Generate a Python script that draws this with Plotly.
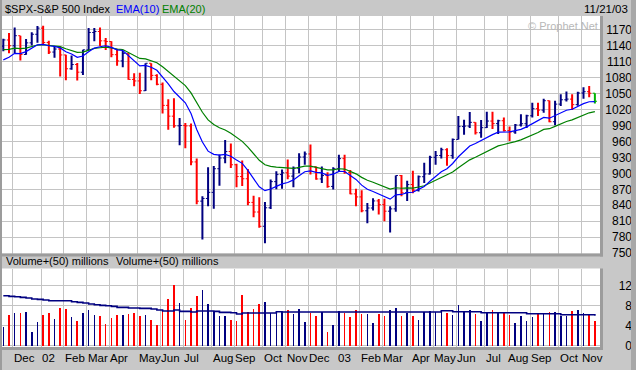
import plotly.graph_objects as go

# ---------------- data (weekly bars, week starting Mon 19 Nov 2001 .. Mon 17 Nov 2003) ----------------
month_labels = ["Dec", "02", "Feb", "Mar", "Apr", "May", "Jun", "Jul", "Aug", "Sep", "Oct", "Nov",
                "Dec", "03", "Feb", "Mar", "Apr", "May", "Jun", "Jul", "Aug", "Sep", "Oct", "Nov"]
# index of the first weekly bar of each month
month_first_bar = [2, 7, 11, 15, 19, 24, 28, 32, 37, 41, 46, 50,
                   54, 59, 63, 67, 72, 76, 80, 85, 89, 93, 98, 102]

opens = [1138.7, 1150.3, 1139.5, 1158.3, 1123.1, 1144.9, 1161.0, 1172.5, 1145.6, 1127.6,
         1133.3, 1122.2, 1096.2, 1104.2, 1089.8, 1131.8, 1164.3, 1166.2, 1148.7, 1147.4,
         1122.7, 1111.0, 1125.2, 1076.3, 1073.4, 1055.0, 1106.6, 1083.8, 1067.1, 1027.5,
         1007.3, 989.1, 989.8, 989.0, 921.4, 847.8, 852.8, 864.2, 908.6, 928.8,
         940.9, 916.1, 893.9, 889.8, 845.4, 827.4, 800.6, 835.3, 884.4, 897.7,
         901.0, 894.7, 909.8, 930.6, 936.3, 912.2, 889.5, 895.8, 875.4, 908.6,
         927.6, 901.8, 861.4, 855.7, 829.7, 834.9, 848.2, 841.2, 828.9, 833.3,
         895.8, 863.5, 878.9, 868.3, 893.6, 898.8, 930.1, 933.4, 944.3, 933.2,
         963.6, 987.8, 988.6, 995.7, 976.2, 985.7, 998.1, 993.3, 998.7, 980.2,
         977.6, 990.7, 993.1, 1008.0, 1021.4, 1018.6, 1036.3, 996.9, 1029.9, 1038.1,
         1039.3, 1028.9, 1050.7, 1053.2, 1050.4]

highs = [1152.4, 1163.4, 1173.6, 1158.3, 1152.0, 1164.6, 1176.5, 1177.0, 1148.8, 1139.0,
         1138.0, 1122.6, 1121.0, 1107.0, 1131.8, 1172.8, 1173.0, 1173.9, 1154.0, 1147.8,
         1134.0, 1130.5, 1125.2, 1088.0, 1088.9, 1106.6, 1106.6, 1086.0, 1070.7, 1039.0,
         1040.8, 1004.0, 994.5, 993.6, 927.6, 857.0, 911.6, 913.9, 935.3, 962.6,
         955.8, 918.0, 924.0, 908.0, 858.0, 855.0, 846.0, 888.2, 903.8, 907.0,
         926.0, 913.0, 937.5, 941.0, 954.3, 913.0, 913.0, 902.0, 911.2, 935.0,
         935.0, 906.0, 871.0, 868.0, 844.4, 853.0, 852.0, 852.4, 838.0, 895.8,
         897.0, 886.0, 905.0, 896.0, 920.0, 933.0, 942.0, 948.2, 947.0, 965.5,
         1007.7, 1000.7, 1015.3, 996.0, 1000.0, 1015.4, 1015.4, 1000.7, 1004.6, 988.0,
         992.5, 1011.0, 1010.0, 1032.4, 1032.4, 1040.2, 1036.5, 1036.0, 1048.3, 1053.8,
         1048.3, 1053.1, 1061.4, 1063.7, 1050.4]

lows = [1129.0, 1125.5, 1125.0, 1112.0, 1122.6, 1140.0, 1145.0, 1142.5, 1124.0, 1117.0,
        1081.7, 1074.5, 1094.4, 1074.4, 1084.5, 1130.5, 1148.0, 1139.0, 1131.6, 1118.0,
        1102.0, 1099.0, 1075.7, 1063.5, 1048.8, 1054.3, 1074.8, 1065.2, 1012.5, 981.6,
        985.6, 952.9, 947.0, 915.0, 842.1, 775.7, 838.0, 833.4, 876.6, 918.7,
        910.0, 874.0, 876.0, 840.0, 817.6, 798.0, 768.6, 833.0, 870.0, 871.0,
        889.0, 873.8, 900.0, 916.0, 897.6, 888.0, 882.0, 873.0, 869.5, 903.0,
        899.0, 860.5, 838.0, 827.0, 806.5, 830.0, 822.6, 810.0, 788.9, 828.0,
        857.0, 847.9, 862.8, 866.0, 882.0, 898.0, 916.0, 927.6, 914.0, 927.3,
        963.6, 972.6, 985.0, 973.0, 967.0, 985.0, 983.0, 974.0, 978.5, 960.8,
        974.2, 988.0, 985.0, 1005.0, 1007.7, 1013.6, 996.0, 990.0, 1026.3, 1035.0,
        1019.0, 1027.0, 1040.0, 1043.0, 1031.2]

closes = [1150.34, 1139.45, 1158.31, 1123.09, 1144.89, 1161.02, 1172.51, 1145.60, 1127.58, 1133.28,
          1122.20, 1096.22, 1104.18, 1089.84, 1131.78, 1164.31, 1166.16, 1148.70, 1147.39, 1122.73,
          1111.01, 1125.17, 1076.32, 1073.43, 1054.99, 1106.59, 1083.82, 1067.14, 1027.53, 1007.27,
          989.14, 989.82, 989.03, 921.39, 847.75, 852.84, 864.24, 908.64, 928.77, 940.86,
          916.07, 893.92, 889.81, 845.39, 827.37, 800.58, 835.32, 884.39, 897.65, 900.96,
          894.74, 909.83, 930.55, 936.31, 912.23, 889.48, 895.76, 875.40, 908.59, 927.57,
          901.78, 861.40, 855.70, 829.69, 834.89, 848.17, 841.15, 828.89, 833.27, 895.79,
          863.50, 878.85, 868.30, 893.58, 898.81, 930.08, 933.41, 944.30, 933.22, 963.59,
          987.76, 988.61, 995.69, 976.22, 985.70, 998.14, 993.32, 998.68, 980.15, 977.59,
          990.67, 993.06, 1008.01, 1021.39, 1018.63, 1036.30, 996.85, 1029.85, 1038.06, 1039.32,
          1028.91, 1050.71, 1053.21, 1050.35, 1035.28]

ema10 = [1113.0, 1117.8, 1125.2, 1124.8, 1128.5, 1134.4, 1141.3, 1142.1, 1139.4, 1138.3,
         1135.4, 1128.3, 1123.9, 1117.7, 1120.2, 1128.2, 1135.1, 1137.6, 1139.4, 1136.4,
         1131.8, 1130.6, 1120.7, 1112.1, 1101.7, 1102.6, 1099.2, 1093.4, 1081.4, 1067.9,
         1053.6, 1042.0, 1032.4, 1012.2, 982.3, 958.8, 941.6, 935.6, 934.3, 935.5,
         932.0, 925.1, 918.7, 905.4, 891.2, 874.7, 867.5, 870.6, 875.5, 880.1,
         882.8, 887.7, 895.5, 902.9, 904.6, 901.9, 900.8, 896.2, 898.4, 903.7,
         903.4, 895.7, 888.5, 877.8, 870.0, 866.0, 861.5, 855.6, 851.5, 859.6,
         860.3, 863.7, 864.5, 869.8, 875.1, 885.1, 893.9, 903.0, 908.5, 918.5,
         931.1, 941.6, 951.4, 955.9, 961.4, 968.0, 972.6, 977.4, 977.9, 977.8,
         980.2, 982.5, 987.2, 993.4, 998.0, 1004.9, 1003.5, 1008.3, 1013.7, 1018.4,
         1020.3, 1025.8, 1030.8, 1034.3, 1034.5]

ema20 = [1132.0, 1132.7, 1135.1, 1134.0, 1135.0, 1137.5, 1140.8, 1141.3, 1140.0, 1139.4,
         1137.7, 1133.8, 1131.0, 1127.0, 1127.5, 1131.0, 1134.4, 1135.7, 1136.8, 1135.5,
         1133.2, 1132.4, 1127.1, 1122.0, 1115.6, 1114.7, 1111.8, 1107.5, 1099.9, 1091.1,
         1081.4, 1072.7, 1064.7, 1051.0, 1031.7, 1014.6, 1000.3, 991.6, 985.6, 981.3,
         975.1, 967.4, 960.0, 949.1, 937.5, 924.5, 916.0, 913.0, 911.5, 910.5,
         909.0, 909.1, 911.1, 913.5, 913.4, 911.1, 909.7, 906.4, 906.6, 908.6,
         908.0, 903.5, 899.0, 892.4, 886.9, 883.2, 879.2, 874.4, 870.5, 872.9,
         872.0, 872.7, 872.3, 874.3, 876.6, 881.7, 886.6, 892.1, 896.0, 902.4,
         910.5, 917.9, 925.3, 930.2, 935.5, 941.5, 946.4, 951.4, 954.1, 956.3,
         959.6, 962.8, 967.1, 972.3, 976.7, 982.4, 983.8, 988.2, 992.9, 997.3,
         1000.3, 1005.1, 1009.7, 1013.6, 1015.7]

volume = [3.8, 6.2, 6.6, 6.5, 6.8, 2.8, 4.8, 6.2, 6.6, 5.4,
          7.6, 7.4, 5.8, 5.0, 6.6, 7.2, 6.2, 6.0, 4.4, 5.6,
          6.2, 6.2, 6.4, 6.6, 6.0, 6.2, 5.2, 4.2, 7.0, 9.4,
          12.2, 8.6, 5.2, 7.6, 10.0, 11.2, 8.4, 7.0, 6.0, 6.0,
          5.2, 5.0, 10.2, 6.8, 7.4, 8.4, 8.8, 6.6, 7.0, 6.8,
          7.2, 6.4, 7.4, 4.8, 6.6, 6.0, 6.8, 2.8, 4.2, 7.0,
          6.6, 5.8, 7.2, 6.4, 6.4, 4.6, 6.4, 6.0, 7.2, 7.6,
          6.0, 6.6, 6.0, 5.2, 6.8, 7.0, 6.8, 7.0, 6.6, 6.2,
          8.2, 6.8, 7.2, 6.4, 5.0, 6.8, 7.2, 6.8, 6.8, 6.2,
          4.5, 6.0, 5.0, 5.8, 6.4, 6.4, 6.8, 6.8, 6.0, 6.0,
          7.0, 7.2, 6.6, 6.4, 5.0]

volume_avg = [10.0, 9.87, 9.8, 9.67, 9.53, 9.33, 9.27, 9.13, 9.0, 9.0,
              9.0, 9.0, 8.8, 8.67, 8.53, 8.33, 8.2, 8.07, 8.0, 7.87,
              7.67, 7.67, 7.53, 7.53, 7.47, 7.47, 7.33, 7.13, 6.93, 6.93,
              7.13, 6.87, 6.87, 6.73, 6.93, 6.93, 6.93, 6.87, 6.67, 6.67,
              6.6, 6.33, 6.53, 6.53, 6.53, 6.53, 6.53, 6.53, 6.8, 6.73,
              6.73, 6.73, 6.73, 6.73, 6.73, 6.73, 6.73, 6.73, 6.73, 6.73,
              6.73, 6.73, 6.73, 6.73, 6.73, 6.73, 6.73, 6.73, 6.73, 6.73,
              6.73, 6.73, 6.73, 6.73, 6.73, 6.73, 6.73, 7.0, 7.0, 6.8,
              6.8, 6.8, 6.8, 6.8, 6.6, 6.6, 6.6, 6.6, 6.6, 6.6,
              6.6, 6.6, 6.4, 6.4, 6.4, 6.4, 6.4, 6.4, 6.2, 6.2,
              6.2, 6.2, 6.2, 6.2, 6.0]

price_ticks = [750, 780, 810, 840, 870, 900, 930, 960, 990, 1020, 1050, 1080, 1110, 1140, 1170]
volume_ticks = [0, 4, 8, 12]

# ---------------- styling ----------------
NAVY = "#000080"
RED = "#ff0000"
GREEN = "#00b400"
BLUE = "#0000ff"
DGREEN = "#008000"
GRID = "#c4c4c4"
BG = "#c8c8c8"
FONT = "'Liberation Sans', Arial, sans-serif"
FS = 11

W, H = 636, 370
PL, PR, PT, PB = 2, 632, 16, 347          # plot-area pixel box


def px_x(px):
    return (px - PL) / (PR - PL)


def px_y(py):
    return (PB - py) / (PB - PT)


n = len(closes)
idx = list(range(n))
prev_close = [opens[0]] + closes[:-1]
vol_colors = [NAVY if c >= p else RED for c, p in zip(closes, prev_close)]
bar_colors = vol_colors[:-1] + [GREEN]

fig = go.Figure()

TICK = 0.38
for color in (NAVY, RED, GREEN):
    vx, vy, tx, ty = [], [], [], []
    for i in idx:
        if bar_colors[i] != color:
            continue
        vx += [i, i, None]
        vy += [lows[i], highs[i], None]
        tx += [i - TICK, i, None, i, i + TICK, None]
        ty += [opens[i], opens[i], None, closes[i], closes[i], None]
    fig.add_trace(go.Scatter(x=vx, y=vy, mode="lines", line=dict(color=color, width=2),
                             xaxis="x", yaxis="y", hoverinfo="skip", showlegend=False))
    fig.add_trace(go.Scatter(x=tx, y=ty, mode="lines", line=dict(color=color, width=1),
                             xaxis="x", yaxis="y", hoverinfo="skip", showlegend=False))

fig.add_trace(go.Scatter(x=idx, y=ema20, mode="lines", line=dict(color=DGREEN, width=1.2),
                         xaxis="x", yaxis="y", name="EMA(20)", showlegend=False))
fig.add_trace(go.Scatter(x=idx, y=ema10, mode="lines", line=dict(color=BLUE, width=1.2),
                         xaxis="x", yaxis="y", name="EMA(10)", showlegend=False))

fig.add_trace(go.Bar(x=idx, y=volume, marker=dict(color=vol_colors, line=dict(width=0)),
                     width=0.28, xaxis="x2", yaxis="y2", showlegend=False))
fig.add_trace(go.Scatter(x=idx, y=volume_avg, mode="lines", line=dict(color=NAVY, width=1.6, shape="hv"),
                         xaxis="x2", yaxis="y2", showlegend=False))

grid_x = [k - 0.35 for k in month_first_bar]
x_range = [-0.23, n - 0.1]
x_dom = [0, px_x(600)]

common_x = dict(domain=x_dom, range=x_range, tickvals=grid_x, showticklabels=False, showgrid=True,
                gridcolor=GRID, gridwidth=1, zeroline=False, showline=False, ticks="", fixedrange=True)
common_y = dict(anchor="free", position=1.0, side="left", showgrid=True, gridcolor=GRID, gridwidth=1,
                zeroline=False, showline=False, ticks="", fixedrange=True,
                tickfont=dict(family=FONT, size=12, color="black"))

fig.update_layout(
    width=W, height=H,
    margin=dict(l=PL, r=W - PR, t=PT, b=H - PB, pad=0),
    paper_bgcolor=BG, plot_bgcolor="white",
    showlegend=False, hovermode=False, bargap=0,
    font=dict(family=FONT, size=FS, color="black"),
    xaxis=dict(anchor="y", **common_x),
    xaxis2=dict(anchor="y2", matches="x", **common_x),
    yaxis=dict(domain=[px_y(253.5), 1.0], range=[749.5, 1195.3], tickvals=price_ticks, **common_y),
    yaxis2=dict(domain=[0, px_y(268.5)], range=[-0.26, 15.44], tickvals=volume_ticks, **common_y),
)

ann = []


def text(px, py, s, color="black", anchor="left", size=FS):
    ann.append(dict(x=px_x(px), y=px_y(py), xref="paper", yref="paper", text=s, showarrow=False,
                    xanchor=anchor, yanchor="middle", font=dict(family=FONT, size=size, color=color)))


text(3, 8.5, "$SPX-S&amp;P 500 Index")
text(114, 8.5, "EMA(10)", BLUE)
text(160, 8.5, "EMA(20)", DGREEN)
text(630, 8.5, "11/21/03", anchor="right", size=11.5)
text(600, 25.5, "© Prophet.Net", "#b8b8b8", anchor="right")
text(4, 261, "Volume+(50) millions")
text(114, 261, "Volume+(50) millions")

for k, lab in zip(month_first_bar, month_labels):
    ann.append(dict(x=k - 0.55, y=px_y(358), xref="x2", yref="paper", text=lab, showarrow=False,
                    xanchor="left", yanchor="middle", font=dict(family=FONT, size=11.5, color="black")))

fig.update_layout(annotations=ann)

EDGE = "#9c9c9c"
shapes = []


def band(x0, y0, x1, y1, color=EDGE):
    shapes.append(dict(type="rect", xref="paper", yref="paper", x0=px_x(x0), x1=px_x(x1),
                       y0=px_y(y1), y1=px_y(y0), fillcolor=color, line=dict(width=0), layer="above"))


band(600, 16, 603, 256.5)
band(0, 253.5, 603, 256.5)
band(600, 268.5, 603, 350)
band(0, 347, 603, 350)
band(0, 0, 2, 370)
band(631, 0, 636, 370, "#a8a8a8")
fig.update_layout(shapes=shapes)

fig.write_html(
    "out.html",
    config={"displayModeBar": False, "staticPlot": True},
    post_script="document.body.style.margin='0';document.body.style.padding='0';"
                "document.body.style.overflow='hidden';",
)
